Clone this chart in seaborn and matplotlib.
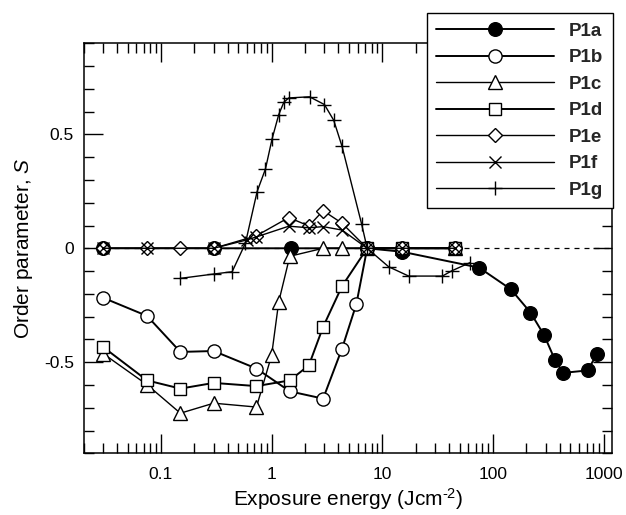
import numpy as np
import pandas as pd
import matplotlib
matplotlib.use("Agg")
import matplotlib.pyplot as plt
import seaborn as sns
from matplotlib.ticker import FixedLocator, LogLocator, MultipleLocator, NullFormatter

# ---- data: exposure energy (J/cm^2) and order parameter S per sample ----
p1a_x = [0.03, 0.3, 1.5, 7.3, 15, 75, 145, 218, 290, 362, 430, 720, 870]
p1a_y = [0, 0, 0, 0, -0.015, -0.085, -0.18, -0.282, -0.382, -0.489, -0.547, -0.536, -0.462]

p1b_x = [0.03, 0.075, 0.15, 0.3, 0.73, 1.46, 2.92, 4.33, 5.83, 7.3, 15, 45]
p1b_y = [-0.217, -0.297, -0.455, -0.451, -0.528, -0.628, -0.66, -0.44, -0.245, 0, 0, 0]

p1c_x = [0.03, 0.075, 0.15, 0.3, 0.73, 1.0, 1.16, 1.46, 2.92, 4.33, 7.3, 15, 45]
p1c_y = [-0.462, -0.599, -0.724, -0.68, -0.697, -0.47, -0.235, -0.035, 0, 0, 0, 0, 0]

p1d_x = [0.03, 0.075, 0.15, 0.3, 0.73, 1.46, 2.17, 2.92, 4.33, 7.3, 15, 45]
p1d_y = [-0.433, -0.58, -0.616, -0.591, -0.605, -0.58, -0.514, -0.345, -0.166, 0, 0, 0]

p1e_x = [0.03, 0.075, 0.15, 0.3, 0.73, 1.43, 2.17, 2.92, 4.33, 7.3, 15, 45]
p1e_y = [0, 0, 0, 0, 0.055, 0.135, 0.098, 0.165, 0.11, 0, 0, 0]

p1f_x = [0.03, 0.075, 0.3, 0.6, 0.73, 1.43, 2.17, 2.92, 4.33, 7.3, 15, 45]
p1f_y = [0, 0, 0, 0.037, 0.05, 0.097, 0.09, 0.095, 0.08, 0, 0, 0]

p1g_x = [0.15, 0.3, 0.44, 0.58, 0.74, 0.88, 1.01, 1.16, 1.29, 1.43, 2.2, 3.0,
         3.64, 4.33, 6.5, 7.3, 11.4, 17.3, 34.9, 42.4, 62]
p1g_y = [-0.132, -0.113, -0.103, 0.022, 0.249, 0.348, 0.48, 0.587, 0.641, 0.66,
         0.665, 0.631, 0.562, 0.447, 0.107, 0.0, -0.081, -0.122, -0.122, -0.099, -0.063]

x_tick_values = [0.1, 1, 10, 100, 1000]
x_tick_labels = ["0.1", "1", "10", "100", "1000"]
y_tick_values = [-0.5, 0, 0.5]
y_tick_labels = ["-0.5", "0", "0.5"]

series = [
    ("P1a", p1a_x, p1a_y, dict(marker="o", ms=9.8, mfc="black", lw=1.4)),
    ("P1b", p1b_x, p1b_y, dict(marker="o", ms=9.5, mfc="white", lw=1.4)),
    ("P1c", p1c_x, p1c_y, dict(marker="^", ms=9.5, mfc="white", lw=1.0)),
    ("P1d", p1d_x, p1d_y, dict(marker="s", ms=9.0, mfc="white", lw=1.4)),
    ("P1e", p1e_x, p1e_y, dict(marker="D", ms=6.8, mfc="white", lw=1.0)),
    ("P1f", p1f_x, p1f_y, dict(marker="x", ms=8.5, mfc="white", lw=1.0)),
    ("P1g", p1g_x, p1g_y, dict(marker="+", ms=10, mfc="white", lw=1.0)),
]

sns.set_theme(style="ticks")
plt.rcParams["font.family"] = ["Liberation Sans", "DejaVu Sans"]
plt.rcParams["axes.unicode_minus"] = False
plt.rcParams["mathtext.fontset"] = "custom"
plt.rcParams["mathtext.rm"] = "Liberation Sans"
plt.rcParams["mathtext.it"] = "Liberation Sans:italic"

fig = plt.figure(figsize=(6.26, 5.15), dpi=100)
ax = fig.add_axes([0.1334, 0.1198, 0.9784 - 0.1334, 0.916 - 0.1198])

# dashed zero reference
ax.axhline(0, color="black", lw=0.9, ls=(0, (4, 4)), zorder=1)

for name, xs, ys, style in series:
    df = pd.DataFrame({"energy": xs, "S": ys})
    sns.lineplot(data=df, x="energy", y="S", ax=ax, color="black",
                 estimator=None, sort=False, label=name,
                 mec="black", mew=1.0, zorder=3, **style)

ax.set_xscale("log")
ax.set_xlim(0.02, 1200)
ax.set_ylim(-0.9, 0.9)

ax.xaxis.set_major_locator(FixedLocator(x_tick_values))
ax.set_xticklabels(x_tick_labels)
ax.xaxis.set_minor_locator(LogLocator(base=10, subs=np.arange(2, 10), numticks=20))
ax.xaxis.set_minor_formatter(NullFormatter())

ax.yaxis.set_major_locator(FixedLocator(y_tick_values))
ax.set_yticklabels(y_tick_labels)
ax.yaxis.set_minor_locator(MultipleLocator(0.1))

ax.tick_params(which="both", direction="in", top=True, right=True,
               color="black", width=1.0, labelsize=12.5, labelcolor="black")
ax.tick_params(which="major", length=14)
ax.tick_params(which="minor", length=7)
ax.tick_params(axis="x", which="major", pad=10)
ax.tick_params(axis="y", which="major", pad=7)
for sp in ax.spines.values():
    sp.set_color("black")
    sp.set_linewidth(1.1)

ax.set_xlabel("Exposure energy (Jcm$^{\u2010\\mathrm{2}}$)", fontsize=15,
              labelpad=3, color="black")
ax.set_ylabel("Order parameter, $\\mathit{S}$", fontsize=15, labelpad=6,
              color="black")

ax.get_legend().remove()
handles, labels = ax.get_legend_handles_labels()
leg = fig.legend(handles, labels, loc="upper right",
                 bbox_to_anchor=(612.7 / 626, 1 - 13.3 / 515),
                 bbox_transform=fig.transFigure,
                 frameon=True, fancybox=False, framealpha=1,
                 edgecolor="black", handlelength=6.3, handletextpad=0.8,
                 labelspacing=0.5, borderpad=0.5, borderaxespad=0,
                 prop={"weight": "bold", "size": 13.5})
leg.get_frame().set_linewidth(1.0)

fig.savefig("out.png", dpi=100)
